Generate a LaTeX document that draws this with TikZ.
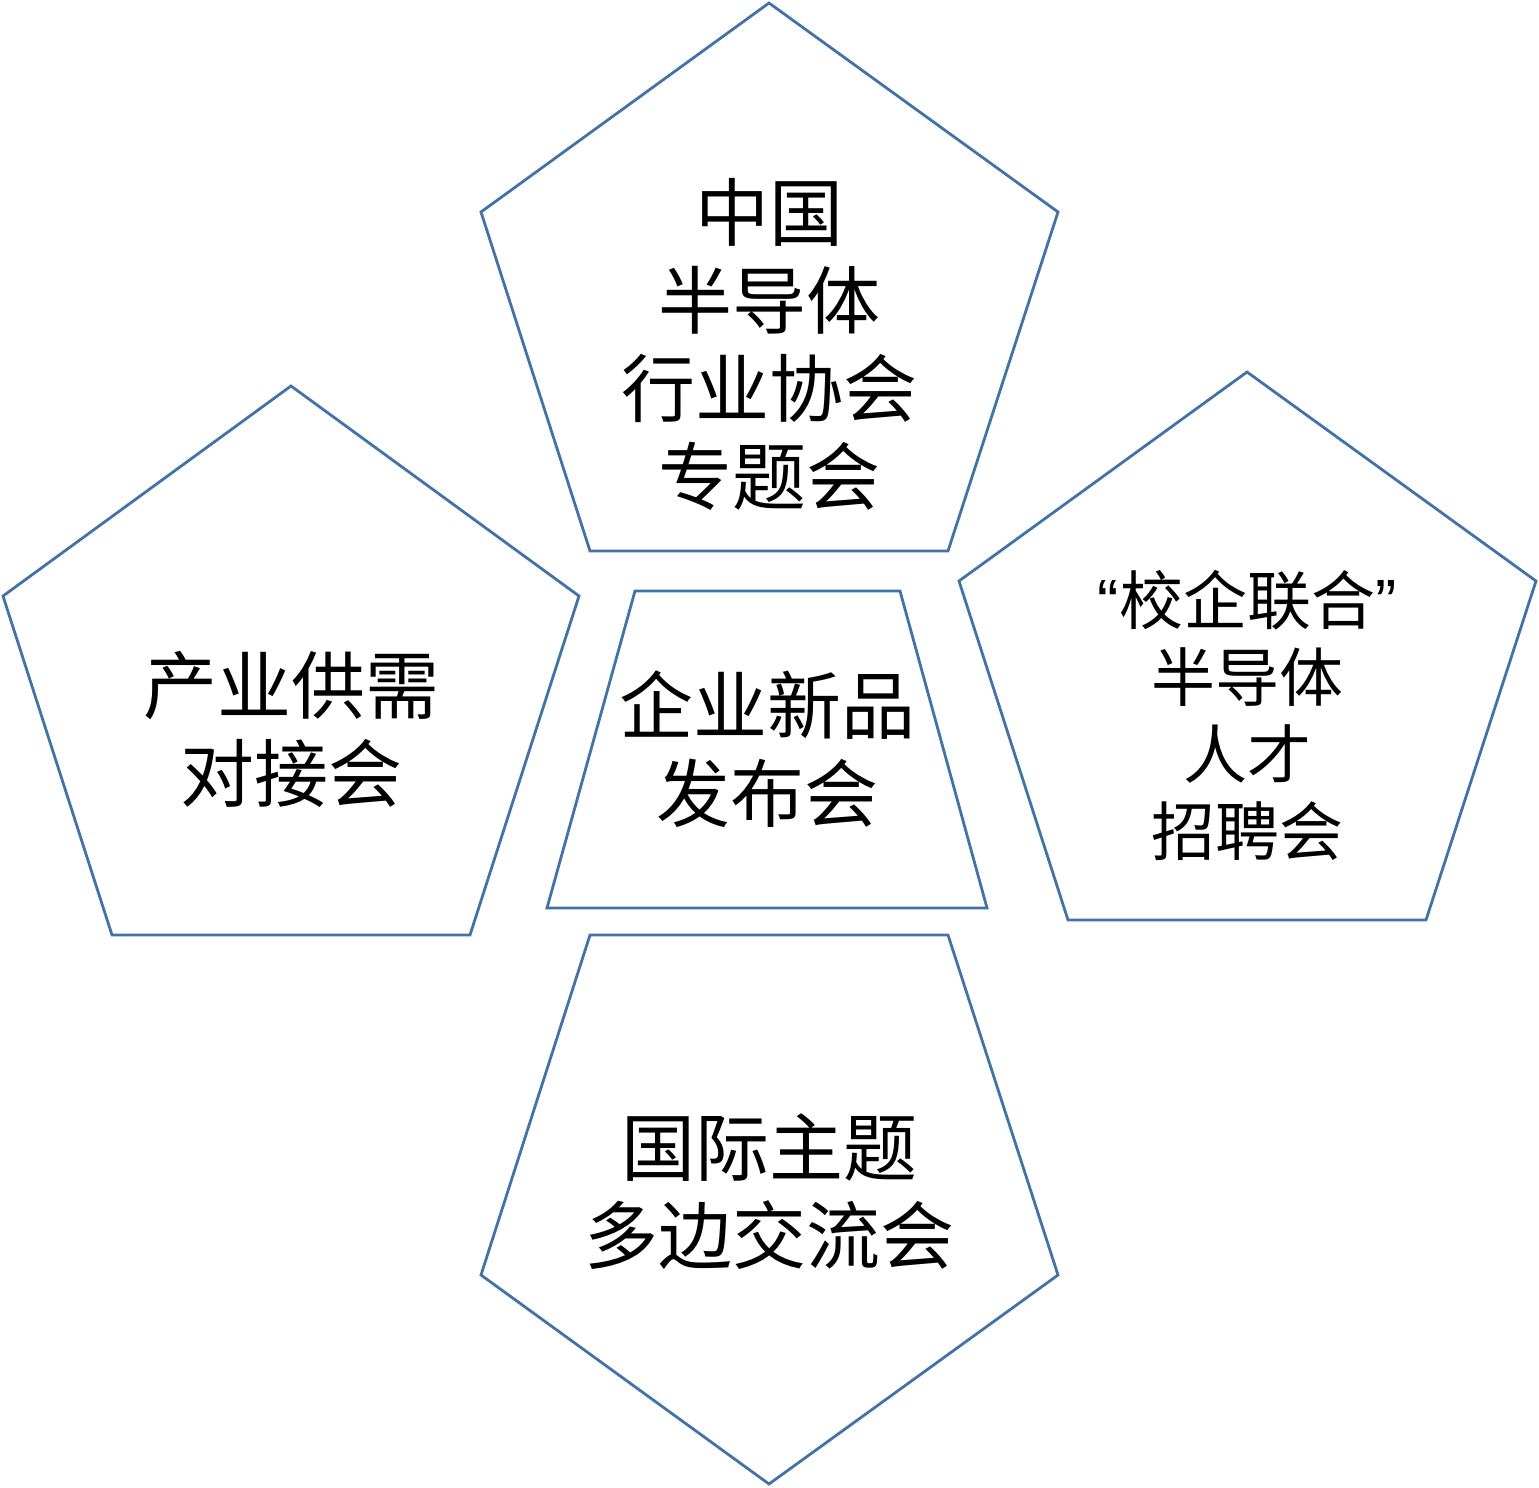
\documentclass[tikz,border=0pt]{standalone}
\usepackage{fontspec}
\newfontfamily\cjk{Noto Sans CJK SC}
\newfontfamily\latq{Liberation Sans}
\definecolor{edge}{HTML}{4372A8}
\tikzset{
  shapeline/.style={draw=edge, line width=2.8pt, line join=miter},
  bigtext/.style={font=\cjk\fontsize{74}{88}\selectfont, align=center, inner sep=0pt, text=black},
  midtext/.style={font=\cjk\fontsize{64}{77}\selectfont, align=center, inner sep=0pt, text=black},
}
\begin{document}
\begin{tikzpicture}[x=1pt,y=-1pt]
\useasboundingbox (0,0) rectangle (1539,1488);
% top pentagon
\draw[shapeline] (769,3) -- (1058,212) -- (948,551) -- (590,551) -- (481,212) -- cycle;
% left pentagon
\draw[shapeline] (291,386) -- (579,596) -- (470,935) -- (112,935) -- (3,596) -- cycle;
% right pentagon
\draw[shapeline] (1247,372) -- (1536,581) -- (1426,920) -- (1068,920) -- (959,581) -- cycle;
% bottom pentagon
\draw[shapeline] (590,935) -- (948,935) -- (1058,1275) -- (769,1484) -- (481,1275) -- cycle;
% centre trapezoid
\draw[shapeline] (635,591) -- (900,591) -- (987,908) -- (547,908) -- cycle;

\node[bigtext] (top) at (769,344) {中国\\半导体\\行业协会\\专题会};
\node[bigtext] (left) at (291,729) {产业供需\\对接会};
\node[bigtext] (mid) at (767,749) {企业新品\\发布会};
\node[midtext] (right) at (1247,715) {{\latq “}校企联合{\latq ”}\\半导体\\人才\\招聘会};
\node[bigtext] (bottom) at (769,1192) {国际主题\\多边交流会};
\end{tikzpicture}
\end{document}
